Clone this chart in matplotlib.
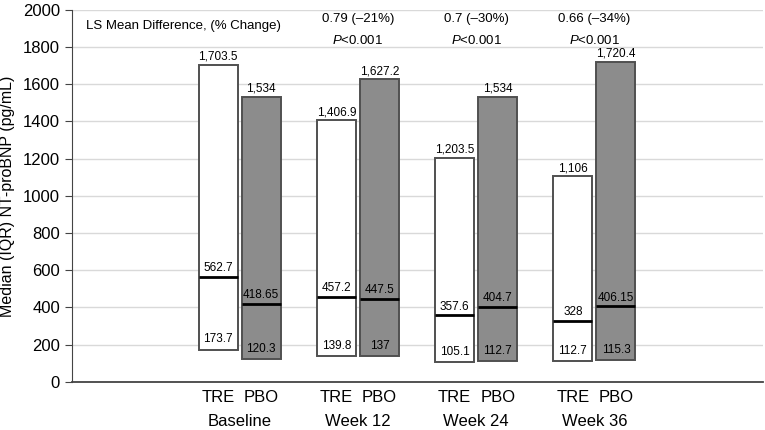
import matplotlib.pyplot as plt

plt.rcParams['font.family'] = ['Liberation Sans', 'DejaVu Sans']
plt.rcParams['mathtext.fontset'] = 'custom'
plt.rcParams['mathtext.it'] = 'Liberation Sans:italic'
plt.rcParams['mathtext.rm'] = 'Liberation Sans'

# data
visits = ['Baseline', 'Week 12', 'Week 24', 'Week 36']
tre_q1 = [173.7, 139.8, 105.1, 112.7]
tre_med = [562.7, 457.2, 357.6, 328]
tre_q3 = [1703.5, 1406.9, 1203.5, 1106]
pbo_q1 = [120.3, 137, 112.7, 115.3]
pbo_med = [418.65, 447.5, 404.7, 406.15]
pbo_q3 = [1534, 1627.2, 1534, 1720.4]
tre_q1_lbl = ['173.7', '139.8', '105.1', '112.7']
tre_med_lbl = ['562.7', '457.2', '357.6', '328']
tre_q3_lbl = ['1,703.5', '1,406.9', '1,203.5', '1,106']
pbo_q1_lbl = ['120.3', '137', '112.7', '115.3']
pbo_med_lbl = ['418.65', '447.5', '404.7', '406.15']
pbo_q3_lbl = ['1,534', '1,627.2', '1,534', '1,720.4']
diff_text = ['0.79 (–21%)', '0.7 (–30%)', '0.66 (–34%)']

fig = plt.figure(figsize=(7.65, 4.3), dpi=100)
ax = fig.add_axes([0.094, 0.112, 0.904, 0.865])

w = 0.33
off = 0.182
edge = '#505050'
for i in range(len(visits)):
    for x, q1, med, q3, l1, lm, l3, fc in [
            (i - off, tre_q1[i], tre_med[i], tre_q3[i], tre_q1_lbl[i], tre_med_lbl[i], tre_q3_lbl[i], 'white'),
            (i + off, pbo_q1[i], pbo_med[i], pbo_q3[i], pbo_q1_lbl[i], pbo_med_lbl[i], pbo_q3_lbl[i], '#8c8c8c')]:
        ax.bar(x, q3 - q1, bottom=q1, width=w, color=fc, edgecolor=edge, linewidth=1.4, zorder=3)
        ax.plot([x - w / 2, x + w / 2], [med, med], color='black', lw=2, zorder=4, solid_capstyle='butt')
        ax.annotate(l3, (x, q3), xytext=(0, 1.5), textcoords='offset points', ha='center', va='bottom', fontsize=8.5, zorder=5)
        ax.annotate(lm, (x, med), xytext=(0, 2), textcoords='offset points', ha='center', va='bottom', fontsize=8.5, zorder=5)
        ax.annotate(l1, (x, q1), xytext=(0, 3), textcoords='offset points', ha='center', va='bottom', fontsize=8.5, zorder=5)

ax.text(-1.3, 1915, 'LS Mean Difference, (% Change)', ha='left', va='center', fontsize=9.5)
for i, t in enumerate(diff_text):
    ax.text(i + 1, 1950, t, ha='center', va='center', fontsize=9.5)
    ax.text(i + 1, 1835, '$P$<0.001', ha='center', va='center', fontsize=9.5)

ax.set_xlim(-1.42, 4.43)
ax.set_ylim(0, 2000)
ax.set_yticks(range(0, 2001, 200))
ax.set_xticks([])
ax.grid(axis='y', color='#d9d9d9', lw=1, zorder=0)
ax.set_axisbelow(True)
for s in ['top', 'right']:
    ax.spines[s].set_visible(False)
ax.spines['left'].set_color('#444444')
ax.spines['bottom'].set_color('#444444')
ax.spines['bottom'].set_linewidth(1.3)
ax.tick_params(axis='y', labelsize=12, color='#444444', length=5)
ax.set_ylabel('Median (IQR) NT-proBNP (pg/mL)', fontsize=11.5, labelpad=6)

for i, v in enumerate(visits):
    ax.text(i - off, -82, 'TRE', ha='center', va='center', fontsize=12)
    ax.text(i + off, -82, 'PBO', ha='center', va='center', fontsize=12)
    ax.text(i, -215, v, ha='center', va='center', fontsize=12, clip_on=False)

fig.savefig('out.png', dpi=100)
